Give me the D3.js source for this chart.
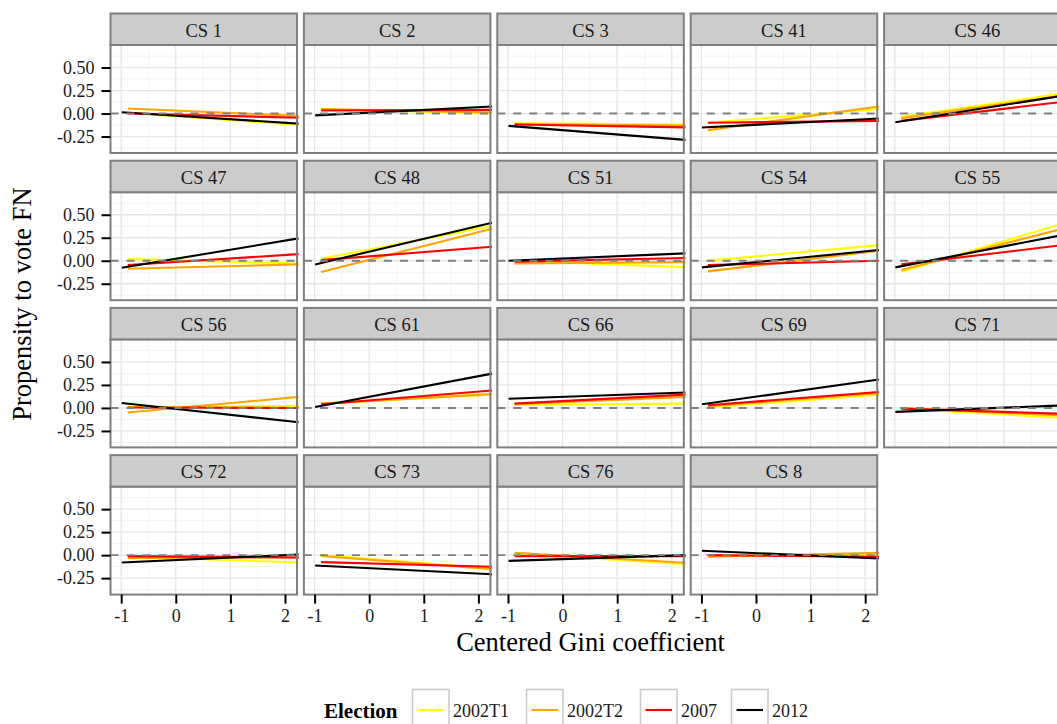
<!DOCTYPE html>
<html>
<head>
<meta charset="utf-8">
<script src="https://cdn.jsdelivr.net/npm/d3@7"></script>
<style>
  html, body { margin: 0; padding: 0; background: #fff; overflow: hidden; }
  svg { display: block; font-family: "Liberation Serif", "DejaVu Serif", serif; }
</style>
</head>
<body>
<svg id="chart" width="1057" height="724"></svg>
<script>
// ---------------- DATA ----------------
const panels = ["CS 1","CS 2","CS 3","CS 41","CS 46","CS 47","CS 48","CS 51","CS 54","CS 55",
                "CS 56","CS 61","CS 66","CS 69","CS 71","CS 72","CS 73","CS 76","CS 8"];
const elections = ["2002T1","2002T2","2007","2012"];
const electionColors = ["#FFFF00","#FFA500","#FF0000","#000000"];
// x (centered Gini) where each election's fitted line starts / ends
const giniStart = [-0.88, -0.88, -0.88, -0.99];
const giniEnd   = [2.25, 2.25, 2.25, 2.25];
// fitted propensity at line start, per panel
const start2002T1 = [0.010, 0.047,-0.105,-0.100,-0.036, 0.018, 0.022, 0.000, 0.000,-0.120, 0.010, 0.047, 0.033, 0.005,-0.007,-0.018, 0.000, 0.018,-0.011];
const start2002T2 = [0.054, 0.050,-0.115,-0.180,-0.050,-0.087,-0.123,-0.030,-0.116,-0.100,-0.050, 0.047, 0.040, 0.020, 0.000,-0.030,-0.010, 0.025,-0.018];
const start2007   = [0.000, 0.033,-0.120,-0.100,-0.080,-0.047, 0.007,-0.010,-0.047,-0.040, 0.004, 0.040, 0.047, 0.030,-0.007,-0.011,-0.076,-0.011, 0.000];
const start2012   = [0.014,-0.020,-0.134,-0.152,-0.094,-0.076,-0.040, 0.000,-0.072,-0.072, 0.054, 0.010, 0.100, 0.040,-0.043,-0.080,-0.112,-0.062, 0.047];
// fitted propensity at line end, per panel
const end2002T1 = [-0.125, 0.000,-0.120, 0.050, 0.233,-0.030, 0.377,-0.070, 0.170, 0.435, 0.022, 0.150, 0.047, 0.145,-0.114,-0.080,-0.145,-0.098, 0.011];
const end2002T2 = [-0.025, 0.010,-0.130, 0.076, 0.210,-0.040, 0.348,-0.015, 0.109, 0.375, 0.120, 0.150, 0.120, 0.160,-0.088,-0.025,-0.152,-0.083, 0.025];
const end2007   = [-0.045, 0.040,-0.150,-0.080, 0.140, 0.072, 0.152, 0.030, 0.000, 0.182, 0.000, 0.190, 0.145, 0.174,-0.067,-0.025,-0.127,-0.011,-0.018];
const end2012   = [-0.110, 0.076,-0.286,-0.054, 0.210, 0.243, 0.413, 0.080, 0.116, 0.300,-0.156, 0.373, 0.167, 0.310, 0.031, 0.007,-0.207, 0.000,-0.036];
const xTicks = [-1, 0, 1, 2];
const xTickLabels = ["-1", "0", "1", "2"];
const xMinor = [-0.5, 0.5, 1.5];
const yTicks = [-0.25, 0, 0.25, 0.5];
const yTickLabels = ["-0.25", "0.00", "0.25", "0.50"];
const yMinor = [-0.375, -0.125, 0.125, 0.375, 0.625];
const xTitle = "Centered Gini coefficient";
const yTitle = "Propensity to vote FN";
const legendTitle = "Election";

const starts = [start2002T1, start2002T2, start2007, start2012];
const ends = [end2002T1, end2002T2, end2007, end2012];

// ---------------- LAYOUT ----------------
const FONT = "Liberation Serif, DejaVu Serif, serif";
const nCol = 5;
const colLeft0 = 110.5, colStep = 193.4, panelW = 186.5;
const rowTop0 = 13.5, rowStep = 147.2, stripH = 31.5, plotH = 108;
const nRows = Math.ceil(panels.length / nCol);

const svg = d3.select("#chart");
const x = d3.scaleLinear().domain([-1.196, 2.22]).range([0, panelW]);
const y = d3.scaleLinear().domain([-0.429, 0.745]).range([plotH, 0]);

const line = d3.line().x(d => x(d[0])).y(d => y(d[1]));

panels.forEach((name, i) => {
  const c = i % nCol, r = Math.floor(i / nCol);
  const px = colLeft0 + c * colStep;
  const sy = rowTop0 + r * rowStep;
  const py = sy + stripH;
  const g = svg.append("g").attr("transform", `translate(${px},${py})`);

  g.append("rect").attr("width", panelW).attr("height", plotH).attr("fill", "#fff");
  // minor grid
  g.selectAll(".xmin").data(xMinor).enter().append("line")
    .attr("x1", d => x(d)).attr("x2", d => x(d)).attr("y1", 0).attr("y2", plotH)
    .attr("stroke", "#f3f3f3").attr("stroke-width", 0.9);
  g.selectAll(".ymin").data(yMinor).enter().append("line")
    .attr("y1", d => y(d)).attr("y2", d => y(d)).attr("x1", 0).attr("x2", panelW)
    .attr("stroke", "#f3f3f3").attr("stroke-width", 0.9);
  // major grid
  g.selectAll(".xmaj").data(xTicks).enter().append("line")
    .attr("x1", d => x(d)).attr("x2", d => x(d)).attr("y1", 0).attr("y2", plotH)
    .attr("stroke", "#e6e6e6").attr("stroke-width", 1.3);
  g.selectAll(".ymaj").data(yTicks).enter().append("line")
    .attr("y1", d => y(d)).attr("y2", d => y(d)).attr("x1", 0).attr("x2", panelW)
    .attr("stroke", "#e6e6e6").attr("stroke-width", 1.3);

  // fitted lines
  elections.forEach((e, k) => {
    g.append("path")
      .datum([[giniStart[k], starts[k][i]], [giniEnd[k], ends[k][i]]])
      .attr("d", line)
      .attr("fill", "none")
      .attr("stroke", electionColors[k])
      .attr("stroke-width", 2.1);
  });

  // zero reference (dashed)
  g.append("line").attr("x1", 0).attr("x2", panelW).attr("y1", y(0)).attr("y2", y(0))
    .attr("stroke", "#7f7f7f").attr("stroke-width", 1.9).attr("stroke-dasharray", "8,8");

  // panel border
  g.append("rect").attr("width", panelW).attr("height", plotH)
    .attr("fill", "none").attr("stroke", "#7f7f7f").attr("stroke-width", 2);

  // strip
  const s = svg.append("g").attr("transform", `translate(${px},${sy})`);
  s.append("rect").attr("width", panelW).attr("height", stripH)
    .attr("fill", "#cccccc").attr("stroke", "#7f7f7f").attr("stroke-width", 2);
  s.append("text").attr("x", panelW / 2).attr("y", 23)
    .attr("text-anchor", "middle").attr("font-size", 18.5).attr("fill", "#1a1a1a").text(name);

  if (c === 0) {
    const ya = d3.axisLeft(y).tickValues(yTicks).tickFormat((d, j) => yTickLabels[j]).tickSize(9).tickPadding(7);
    const ag = g.append("g").call(ya);
    ag.attr("font-family", FONT).attr("font-size", 18);
    ag.select(".domain").remove();
    ag.selectAll(".tick line").attr("stroke", "#000").attr("stroke-width", 2);
    ag.selectAll(".tick text").attr("fill", "#1a1a1a");
  }
  // x axis only under the panels of the last row
  if (r === nRows - 1) {
    const xa = d3.axisBottom(x).tickValues(xTicks).tickFormat((d, j) => xTickLabels[j]).tickSize(9).tickPadding(6);
    const ag = g.append("g").attr("transform", `translate(0,${plotH})`).call(xa);
    ag.attr("font-family", FONT).attr("font-size", 18);
    ag.select(".domain").remove();
    ag.selectAll(".tick line").attr("stroke", "#000").attr("stroke-width", 2);
    ag.selectAll(".tick text").attr("fill", "#1a1a1a");
  }
});

// axis titles
const gridLeft = colLeft0, gridRight = colLeft0 + 4 * colStep + panelW;
const gridTop = rowTop0, gridBottom = rowTop0 + 3 * rowStep + stripH + plotH;
svg.append("text").attr("x", (gridLeft + gridRight) / 2).attr("y", 651)
  .attr("text-anchor", "middle").attr("font-size", 26.5).attr("fill", "#000").text(xTitle);
svg.append("text").attr("transform", `translate(31,${(gridTop + gridBottom) / 2}) rotate(-90)`)
  .attr("text-anchor", "middle").attr("font-size", 26.5).attr("fill", "#000").text(yTitle);

// legend
const lg = svg.append("g");
lg.append("text").attr("x", 324).attr("y", 718).attr("font-size", 21).attr("font-weight", "bold")
  .attr("fill", "#000").text(legendTitle);
const keyX = [412.5, 526.5, 640.5, 731.5];
elections.forEach((e, k) => {
  lg.append("rect").attr("x", keyX[k]).attr("y", 689.5).attr("width", 36.5).attr("height", 40)
    .attr("fill", "#fff").attr("stroke", "#cccccc").attr("stroke-width", 1.6);
  lg.append("line").attr("x1", keyX[k] + 5).attr("x2", keyX[k] + 31.5).attr("y1", 710).attr("y2", 710)
    .attr("stroke", electionColors[k]).attr("stroke-width", 2.1);
  lg.append("text").attr("x", keyX[k] + 40.5).attr("y", 717).attr("font-size", 18)
    .attr("fill", "#1a1a1a").text(e);
});
</script>
</body>
</html>
